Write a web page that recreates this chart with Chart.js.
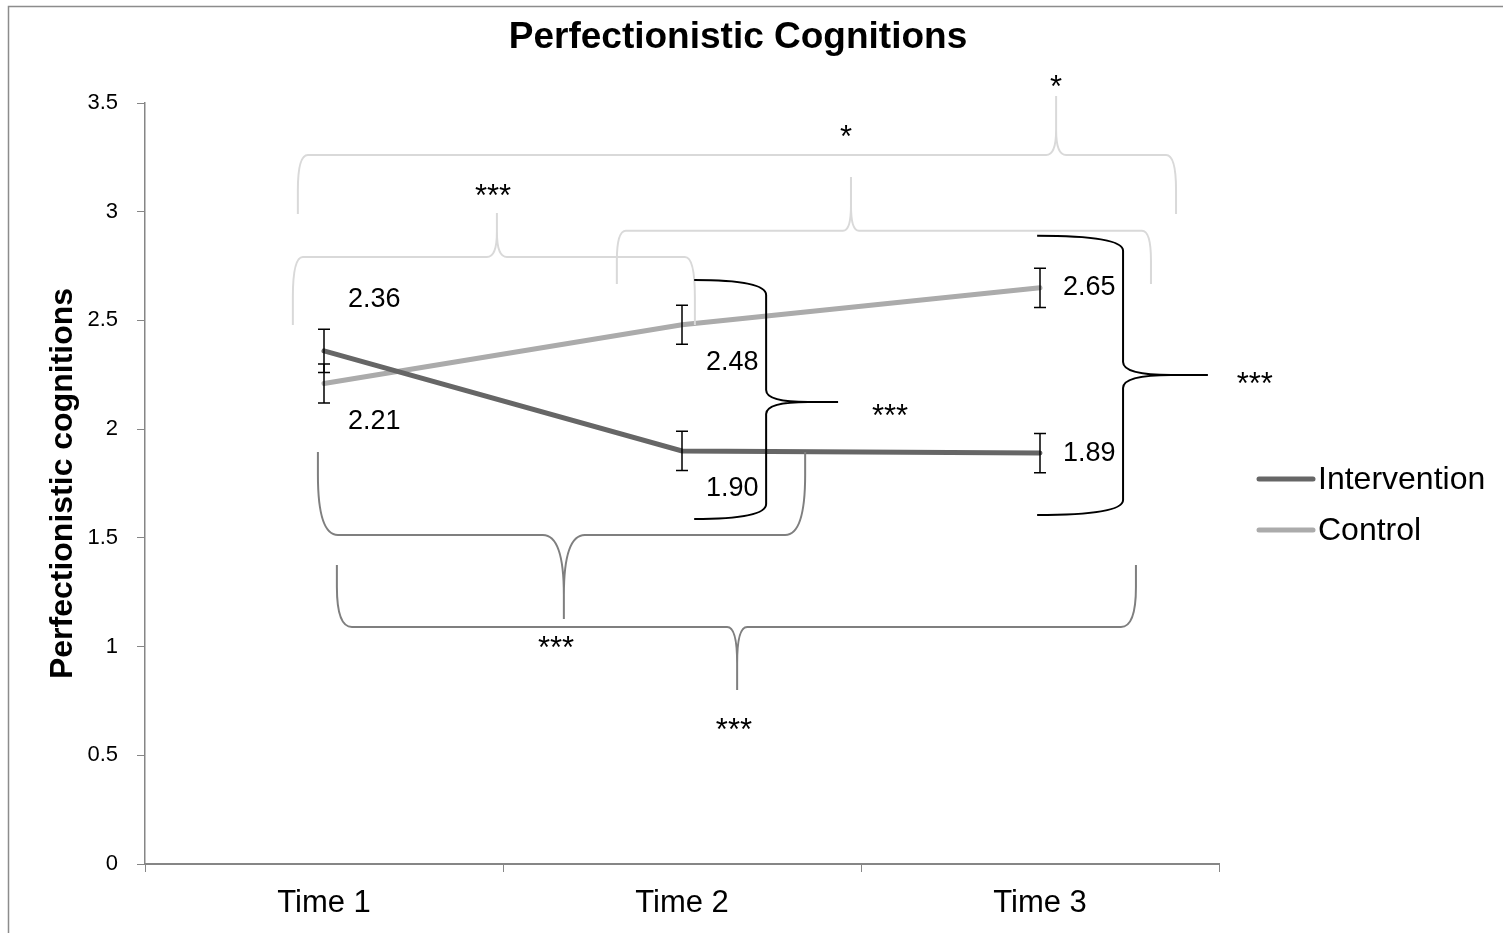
<!DOCTYPE html>
<html>
<head>
<meta charset="utf-8">
<title>Perfectionistic Cognitions</title>
<script src="https://cdn.jsdelivr.net/npm/chart.js@4.4.0/dist/chart.umd.min.js"></script>
<style>
  html, body { margin: 0; padding: 0; background: #fff; overflow: hidden; }
  #contenedor { position: relative; width: 1503px; height: 933px; }
</style>
</head>
<body>
<div id="contenedor"><canvas id="grafico" width="1503" height="933"></canvas></div>
<script>
const categories = ["Time 1", "Time 2", "Time 3"];
const intervention = [2.36, 1.90, 1.89];
const control = [2.21, 2.48, 2.65];
const interventionErr = [0.10, 0.09, 0.09];
const controlErr = [0.09, 0.09, 0.09];
const interventionLabels = ["2.36", "1.90", "1.89"];
const controlLabels = ["2.21", "2.48", "2.65"];
const yTicks = [0, 0.5, 1, 1.5, 2, 2.5, 3, 3.5];

// significance braces, in data units (x = category index, y = value)
// "h": spans x, line/end/tip are y values. "v": spans y, line/end/tip are x indices
const braces = [
    { dir: "h", from: -0.073, to: 2.38, line: 3.261, end: 2.99, tipAt: 2.045, tip: 3.532, text: "*", textX: 2.045, textY: 3.60 },
    { dir: "h", from: 0.818, to: 2.31, line: 2.912, end: 2.668, tipAt: 1.472, tip: 3.16, text: "*", textX: 1.458, textY: 3.367 },
    { dir: "h", from: -0.087, to: 1.036, line: 2.792, end: 2.479, tipAt: 0.483, tip: 2.994, text: "***", textX: 0.472, textY: 3.10 },
    { dir: "v", from: 2.686, to: 1.587, line: 1.235, end: 1.034, tipAt: 2.125, tip: 1.436, text: "***", textX: 1.581, textY: 2.088 },
    { dir: "v", from: 2.889, to: 1.605, line: 2.232, end: 1.992, tipAt: 2.249, tip: 2.469, text: "***", textX: 2.60, textY: 2.235 },
    { dir: "h", from: -0.017, to: 1.344, line: 1.513, end: 1.895, tipAt: 0.670, tip: 1.127, text: "***", textX: 0.648, textY: 1.021 },
    { dir: "h", from: 0.036, to: 2.268, line: 1.090, end: 1.375, tipAt: 1.154, tip: 0.80, text: "***", textX: 1.145, textY: 0.644 },
];

const braceStyles = [
    { color: "#d9d9d9", rA: 10, rC: 35, rT: 10, hT: 25 },
    { color: "#d9d9d9", rA: 9, rC: 30, rT: 8, hT: 25 },
    { color: "#d9d9d9", rA: 10, rC: 40, rT: 10, hT: 25 },
    { color: "#000000", rA: 15, rC: 100, rT: 12, hT: 42 },
    { color: "#000000", rA: 15, rC: 100, rT: 13, hT: 48 },
    { color: "#7f7f7f", rA: 20, rC: 60, rT: 21, hT: 60 },
    { color: "#7f7f7f", rA: 15, rC: 40, rT: 10, hT: 36 },
];

const fuente = 'Arial, "Liberation Sans", sans-serif';
const errores = [interventionErr, controlErr];
const etiquetas = [interventionLabels, controlLabels];
// where each value label sits relative to its point
const posiciones = [["above", "below", "right"], ["below", "below", "right"]];
const desplazamientos = { above: [24, -51], below: [24, 38], right: [23, 0] };

const drawBrace = (ctx, b, s, xs, ys) => {
    const horiz = b.dir === "h";
    const pA = (v) => horiz ? xs.getPixelForValue(v) : ys.getPixelForValue(v);
    const pC = (v) => horiz ? ys.getPixelForValue(v) : xs.getPixelForValue(v);
    const pt = (a, c) => horiz ? [a, c] : [c, a];
    let a1 = pA(b.from);
    let a2 = pA(b.to);
    if (a1 > a2) [a1, a2] = [a2, a1];
    const line = pC(b.line);
    const end = pC(b.end);
    const aT = pA(b.tipAt);
    const tip = pC(b.tip);
    const d = Math.sign(tip - line);
    const rC = Math.min(s.rC, Math.abs(end - line));

    ctx.beginPath();
    ctx.moveTo(...pt(a1, end));
    ctx.lineTo(...pt(a1, line - d * rC));
    ctx.quadraticCurveTo(...pt(a1, line), ...pt(a1 + s.rA, line));
    ctx.lineTo(...pt(aT - s.rT, line));
    ctx.quadraticCurveTo(...pt(aT, line), ...pt(aT, line + d * s.hT));
    ctx.lineTo(...pt(aT, tip));
    ctx.moveTo(...pt(aT, line + d * s.hT));
    ctx.quadraticCurveTo(...pt(aT, line), ...pt(aT + s.rT, line));
    ctx.lineTo(...pt(a2 - s.rA, line));
    ctx.quadraticCurveTo(...pt(a2, line), ...pt(a2, line - d * rC));
    ctx.lineTo(...pt(a2, end));
    ctx.strokeStyle = s.color;
    ctx.lineWidth = 2;
    ctx.stroke();
};

const decoraciones = {
    id: "decoraciones",
    beforeDraw: (chart) => {
        const ctx = chart.ctx;
        ctx.save();
        ctx.fillStyle = "#ffffff";
        ctx.fillRect(0, 0, chart.width, chart.height);
        ctx.strokeStyle = "#8c8c8c";
        ctx.lineWidth = 1.5;
        ctx.strokeRect(8.5, 6.5, chart.width + 50, chart.height + 50);
        ctx.restore();
    },
    afterDatasetsDraw: (chart) => {
        const ctx = chart.ctx;
        const xs = chart.scales.x;
        const ys = chart.scales.y;
        ctx.save();

        // braces
        braces.forEach((b, i) => drawBrace(ctx, b, braceStyles[i], xs, ys));

        // error bars
        ctx.strokeStyle = "#000000";
        ctx.lineWidth = 1.5;
        chart.data.datasets.forEach((ds, i) => {
            const meta = chart.getDatasetMeta(i);
            meta.data.forEach((p, j) => {
                const top = ys.getPixelForValue(ds.data[j] + errores[i][j]);
                const bottom = ys.getPixelForValue(ds.data[j] - errores[i][j]);
                ctx.beginPath();
                ctx.moveTo(p.x, top);
                ctx.lineTo(p.x, bottom);
                ctx.moveTo(p.x - 6, top);
                ctx.lineTo(p.x + 6, top);
                ctx.moveTo(p.x - 6, bottom);
                ctx.lineTo(p.x + 6, bottom);
                ctx.stroke();
            });
        });

        // value labels
        ctx.fillStyle = "#000000";
        ctx.font = `27px ${fuente}`;
        ctx.textAlign = "left";
        ctx.textBaseline = "middle";
        chart.data.datasets.forEach((ds, i) => {
            const meta = chart.getDatasetMeta(i);
            meta.data.forEach((p, j) => {
                const [dx, dy] = desplazamientos[posiciones[i][j]];
                ctx.fillText(etiquetas[i][j], p.x + dx, p.y + dy);
            });
        });

        // significance stars (glyph sits high in the em box, so push it down)
        ctx.font = `31px ${fuente}`;
        ctx.textAlign = "center";
        braces.forEach((b) => {
            ctx.fillText(b.text, xs.getPixelForValue(b.textX), ys.getPixelForValue(b.textY) + 7);
        });
        ctx.restore();
    },
    afterDraw: (chart) => {
        const ctx = chart.ctx;
        const area = chart.chartArea;
        ctx.save();
        ctx.fillStyle = "#000000";
        ctx.font = `bold 37px ${fuente}`;
        ctx.textAlign = "center";
        ctx.textBaseline = "middle";
        ctx.fillText("Perfectionistic Cognitions", 738, 38);

        // legend
        const lx = area.right + 40;
        ctx.font = `32px ${fuente}`;
        ctx.textAlign = "left";
        chart.data.datasets.forEach((ds, i) => {
            const ly = 479 + i * 51;
            ctx.beginPath();
            ctx.moveTo(lx, ly);
            ctx.lineTo(lx + 54, ly);
            ctx.strokeStyle = ds.borderColor;
            ctx.lineWidth = 5;
            ctx.lineCap = "round";
            ctx.stroke();
            ctx.fillText(ds.label, lx + 59, ly + 1);
        });
        ctx.restore();
    },
};

const ctx = document.getElementById("grafico").getContext("2d");
new Chart(ctx, {
    type: "line",
    data: {
        labels: categories,
        datasets: [
            {
                label: "Intervention",
                data: intervention,
                borderColor: "#666666",
                backgroundColor: "#666666",
                borderWidth: 5,
                borderCapStyle: "round",
                pointRadius: 0,
                tension: 0,
            },
            {
                label: "Control",
                data: control,
                borderColor: "#ababab",
                backgroundColor: "#ababab",
                borderWidth: 5,
                borderCapStyle: "round",
                pointRadius: 0,
                tension: 0,
            },
        ],
    },
    options: {
        responsive: false,
        animation: false,
        devicePixelRatio: 1,
        layout: { padding: { left: 20, top: 103, right: 284, bottom: 0 } },
        plugins: {
            legend: { display: false },
            title: { display: false },
            tooltip: { enabled: false },
        },
        scales: {
            x: {
                offset: true,
                grid: { offset: true, drawOnChartArea: false, drawTicks: true, tickLength: 8, color: "#868686" },
                border: { display: true, color: "#868686", width: 2 },
                ticks: { color: "#000000", font: { family: fuente, size: 31 }, padding: 13, maxRotation: 0 },
                afterFit: (s) => { s.height = 69; },
            },
            y: {
                min: yTicks[0],
                max: yTicks[yTicks.length - 1],
                afterBuildTicks: (axis) => { axis.ticks = yTicks.map((v) => ({ value: v })); },
                grid: { drawOnChartArea: false, drawTicks: true, tickLength: 8, color: "#868686" },
                border: { display: true, color: "#868686", width: 1.5 },
                ticks: {
                    color: "#000000",
                    font: { family: fuente, size: 22 },
                    padding: 19,
                    callback: (value) => String(value),
                },
                title: {
                    display: true,
                    text: "Perfectionistic cognitions",
                    color: "#000000",
                    font: { family: fuente, size: 32, weight: "bold" },
                    padding: { top: 24, bottom: 0 },
                },
                afterFit: (s) => { s.width = 125; },
            },
        },
    },
    plugins: [decoraciones],
});
</script>
</body>
</html>
